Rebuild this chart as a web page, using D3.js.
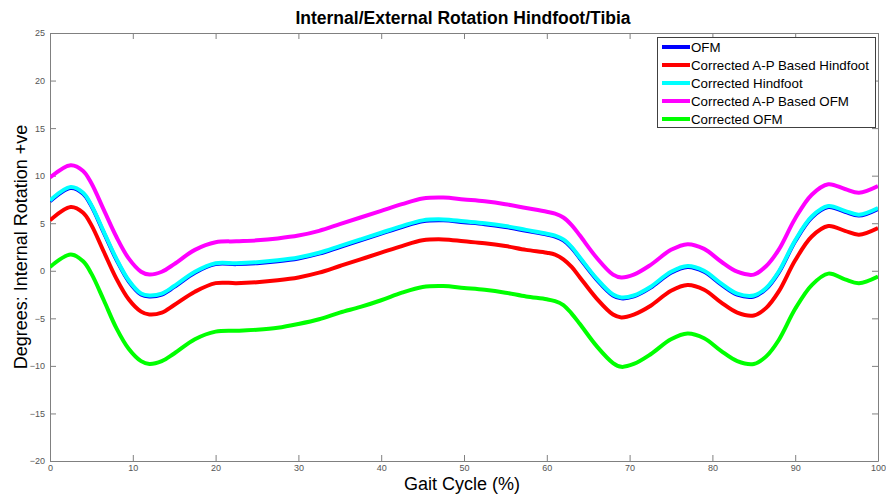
<!DOCTYPE html>
<html>
<head>
<meta charset="utf-8">
<script src="https://cdn.jsdelivr.net/npm/d3@7"></script>
<style>
  html, body { margin: 0; padding: 0; background: #fff; }
  svg { display: block; }
</style>
</head>
<body>
<svg id="chart" width="886" height="496"></svg>
<script>
// ---- data ----
const gaitPct = [0,2.5,4,5,6.5,8,9.5,11,12,13.5,15,17.5,20,22.5,25,27.5,30,32.5,35,37.5,40,42.5,45,47.5,50,52.5,55,57.5,60,61,62,63,64,66,68,69,70.5,72.5,75,77,79,81,83,85,86.5,88,90,92,94,96,97.7,100];

const ofm = [7.3,8.7,8.1,6.8,4.0,1.2,-1.1,-2.5,-2.7,-2.5,-1.7,-0.2,0.7,0.7,0.8,1.0,1.3,1.8,2.5,3.2,3.9,4.6,5.2,5.3,5.1,4.9,4.6,4.2,3.8,3.6,3.2,2.4,1.3,-0.9,-2.6,-2.9,-2.7,-1.8,-0.2,0.4,-0.1,-1.4,-2.5,-2.7,-1.9,-0.2,3.1,5.6,6.7,6.2,5.8,6.5];

const correctedAPHindfoot = [5.3,6.7,6.1,4.8,2.0,-0.8,-3.0,-4.3,-4.6,-4.4,-3.6,-2.2,-1.3,-1.3,-1.2,-1.0,-0.7,-0.2,0.5,1.2,1.9,2.6,3.2,3.3,3.1,2.9,2.6,2.2,1.9,1.7,1.2,0.4,-0.7,-2.9,-4.6,-4.9,-4.6,-3.7,-2.1,-1.5,-2.0,-3.3,-4.4,-4.7,-3.9,-2.2,1.1,3.6,4.7,4.2,3.8,4.5];

const correctedHindfoot = [7.4,8.8,8.2,6.9,4.1,1.3,-1.0,-2.4,-2.6,-2.4,-1.6,-0.1,0.8,0.8,0.9,1.1,1.4,1.9,2.6,3.3,4.0,4.7,5.3,5.4,5.2,5.0,4.7,4.3,3.9,3.7,3.3,2.5,1.4,-0.8,-2.5,-2.8,-2.6,-1.7,-0.1,0.5,0.0,-1.3,-2.4,-2.6,-1.8,-0.1,3.2,5.7,6.8,6.3,5.9,6.6];

const correctedAPOFM = [9.8,11.1,10.5,9.2,6.4,3.6,1.3,-0.1,-0.4,-0.1,0.7,2.2,3.0,3.1,3.2,3.4,3.7,4.2,4.9,5.6,6.3,7.0,7.6,7.7,7.5,7.3,7.0,6.6,6.2,6.0,5.6,4.8,3.7,1.4,-0.4,-0.7,-0.4,0.6,2.2,2.8,2.3,1.0,-0.1,-0.4,0.5,2.2,5.5,8.0,9.1,8.6,8.2,8.9];

const correctedOFM = [0.4,1.7,1.0,-0.3,-3.1,-6.0,-8.2,-9.5,-9.8,-9.5,-8.7,-7.2,-6.4,-6.3,-6.2,-6.0,-5.6,-5.1,-4.4,-3.8,-3.1,-2.3,-1.7,-1.6,-1.8,-2.0,-2.3,-2.7,-3.0,-3.2,-3.6,-4.5,-5.6,-7.9,-9.7,-10.1,-9.8,-8.8,-7.2,-6.6,-7.1,-8.4,-9.5,-9.8,-9.0,-7.3,-4.0,-1.5,-0.3,-0.9,-1.3,-0.6];

const seriesNames = ["OFM","Corrected A-P Based Hindfoot","Corrected Hindfoot","Corrected A-P Based OFM","Corrected OFM"];
const seriesColors = ["#0000ff","#ff0000","#00ffff","#ff00ff","#00ff00"];
const seriesValues = [ofm, correctedAPHindfoot, correctedHindfoot, correctedAPOFM, correctedOFM];

const xTicks = [0,10,20,30,40,50,60,70,80,90,100];
const yTicks = [-20,-15,-10,-5,0,5,10,15,20,25];

const titleText = "Internal/External Rotation Hindfoot/Tibia";
const xLabel = "Gait Cycle (%)";
const yLabel = "Degrees: Internal Rotation +ve";

(function draw() {
  const svg = d3.select("#chart");
  const L = 50, R = 878, T = 33, B = 461;
  const x = d3.scaleLinear().domain([0, 100]).range([L, R]);
  const y = d3.scaleLinear().domain([-20, 25]).range([B, T]);
  const axisColor = "#808080";
  const tickLen = 6;

  // title
  svg.append("text")
    .attr("x", 463).attr("y", 24)
    .attr("text-anchor", "middle")
    .attr("font-family", "'Liberation Sans Narrow','Arial Narrow',sans-serif")
    .attr("font-weight", "bold")
    .attr("font-size", 17.5)
    .attr("fill", "#000")
    .text(titleText);

  // axes (MATLAB-like, ticks inward)
  const axB = d3.axisBottom(x).tickValues(xTicks).tickSizeInner(-tickLen).tickSizeOuter(0).tickPadding(4);
  const axT = d3.axisTop(x).tickValues(xTicks).tickSizeInner(-tickLen).tickSizeOuter(0).tickFormat("");
  const axL = d3.axisLeft(y).tickValues(yTicks).tickSizeInner(-tickLen).tickSizeOuter(0).tickPadding(5);
  const axR = d3.axisRight(y).tickValues(yTicks).tickSizeInner(-tickLen).tickSizeOuter(0).tickFormat("");

  function styleAxis(g) {
    g.select(".domain").attr("stroke", axisColor).attr("stroke-width", 1);
    g.selectAll(".tick line").attr("stroke", axisColor);
    g.selectAll(".tick text").attr("fill", "#555").attr("font-size", 9)
      .attr("font-family", "'Liberation Sans',Arial,sans-serif");
  }

  svg.append("g").attr("transform", `translate(0,${B})`).call(axB).call(styleAxis);
  svg.append("g").attr("transform", `translate(0,${T})`).call(axT).call(styleAxis);
  svg.append("g").attr("transform", `translate(${L},0)`).call(axL).call(styleAxis);
  svg.append("g").attr("transform", `translate(${R},0)`).call(axR).call(styleAxis);

  // lines
  svg.append("clipPath").attr("id", "clip")
    .append("rect").attr("x", L).attr("y", T).attr("width", R - L).attr("height", B - T);

  const line = d3.line().x(d => x(d[0])).y(d => y(d[1])).curve(d3.curveCatmullRom.alpha(0.5));
  const linesG = svg.append("g").attr("clip-path", "url(#clip)");
  seriesValues.forEach((vals, i) => {
    linesG.append("path")
      .datum(gaitPct.map((g, j) => [g, vals[j]]))
      .attr("fill", "none")
      .attr("stroke", seriesColors[i])
      .attr("stroke-width", 4)
      .attr("stroke-linejoin", "round")
      .attr("d", line);
  });

  // axis labels
  svg.append("text")
    .attr("x", 462).attr("y", 490)
    .attr("text-anchor", "middle")
    .attr("font-family", "'Liberation Sans',Arial,sans-serif")
    .attr("font-size", 18)
    .attr("fill", "#000")
    .text(xLabel);

  svg.append("text")
    .attr("transform", `translate(27,247) rotate(-90)`)
    .attr("text-anchor", "middle")
    .attr("font-family", "'Liberation Sans',Arial,sans-serif")
    .attr("font-size", 18)
    .attr("fill", "#000")
    .text(yLabel);

  // legend
  const lg = svg.append("g");
  lg.append("rect").attr("x", 657.5).attr("y", 37.5).attr("width", 218).attr("height", 90)
    .attr("fill", "#fff").attr("stroke", "#404040").attr("stroke-width", 1);
  seriesNames.forEach((name, i) => {
    const yy = 47 + i * 18;
    lg.append("line").attr("x1", 662).attr("x2", 690).attr("y1", yy).attr("y2", yy)
      .attr("stroke", seriesColors[i]).attr("stroke-width", 4);
    lg.append("text").attr("x", 691).attr("y", yy + 4.8)
      .attr("font-family", "'Liberation Sans',Arial,sans-serif")
      .attr("font-size", 13.3).attr("fill", "#000")
      .text(name);
  });
})();
</script>
</body>
</html>
